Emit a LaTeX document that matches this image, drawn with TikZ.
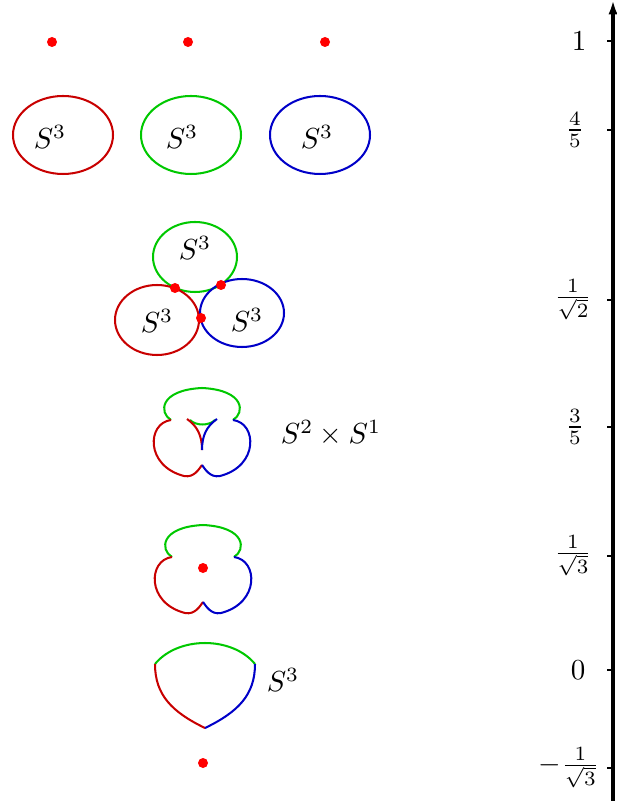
\documentclass[tikz,border=0pt]{standalone}
\usetikzlibrary{arrows.meta}
\definecolor{sred}{RGB}{200,0,0}
\definecolor{sgreen}{RGB}{0,200,0}
\definecolor{sblue}{RGB}{0,0,200}
\tikzset{
  sheet/.style={line width=0.7pt},
  crit/.style={fill=red},
  lvl/.style={inner sep=0pt},
}
\begin{document}
\begin{tikzpicture}[x=0.345pt,y=-0.345pt]
    \useasboundingbox (0,0) rectangle (616,801);

    % nivel 1: tres maximos
    \fill[crit] (52,42) circle (5);
    \fill[crit] (188,42) circle (5);
    \fill[crit] (325,42) circle (5);

    % nivel 4/5: tres esferas separadas
    \draw[sheet,sred] (63,135) ellipse (50 and 39);
    \draw[sheet,sgreen] (191,135) ellipse (50 and 39);
    \draw[sheet,sblue] (320,135) ellipse (50 and 39);
    \node (s3a) at (50,137) {$S^3$};
    \node (s3b) at (182,137) {$S^3$};
    \node (s3c) at (317,137) {$S^3$};

    % nivel 1/sqrt2: las esferas se tocan
    \draw[sheet,sgreen] (195,257) ellipse (42 and 35);
    \draw[sheet,sred] (157,320) ellipse (42 and 35);
    \draw[sheet,sblue] (242,313) ellipse (42 and 34);
    \fill[crit] (175,288) circle (5);
    \fill[crit] (221,285) circle (5);
    \fill[crit] (201,318) circle (5);
    \node (s3d) at (195,248) {$S^3$};
    \node (s3e) at (157,321) {$S^3$};
    \node (s3f) at (247,320) {$S^3$};

    % nivel 3/5: S^2 x S^1
    \begin{scope}[shift={(-1,-137)}]
      \draw[sheet,sgreen] (172,557) .. controls (160,550) and (160,527) .. (203,525)
        .. controls (246,527) and (246,550) .. (234,557);
      \draw[sheet,sred] (172,557) .. controls (148,560) and (146,603) .. (185,613)
        .. controls (195,615) and (200,606) .. (203,602);
      \draw[sheet,sblue] (203,602) .. controls (206,606) and (211,615) .. (221,613)
        .. controls (260,603) and (258,560) .. (234,557);
      \draw[sheet,sgreen] (191,557) .. controls (197,563) and (210,563) .. (216,557);
      \draw[sheet,sred] (188,556) .. controls (198,563) and (203,572) .. (203,587);
      \draw[sheet,sblue] (218,556) .. controls (208,563) and (203,572) .. (203,587);
    \end{scope}
    \node (s2s1) at (331,433) {$S^2\times S^1$};

    % nivel 1/sqrt3
    \draw[sheet,sgreen] (172,557) .. controls (160,550) and (160,527) .. (203,525)
      .. controls (246,527) and (246,550) .. (234,557);
    \draw[sheet,sred] (172,557) .. controls (148,560) and (146,603) .. (185,613)
      .. controls (195,615) and (200,606) .. (203,602);
    \draw[sheet,sblue] (203,602) .. controls (206,606) and (211,615) .. (221,613)
      .. controls (260,603) and (258,560) .. (234,557);
    \fill[crit] (203,568) circle (5);

    % nivel 0: una esfera
    \draw[sheet,sgreen] (155,664) .. controls (178,636) and (232,636) .. (255,664);
    \draw[sheet,sred] (155,664) .. controls (155,695) and (172,712) .. (205,728);
    \draw[sheet,sblue] (255,664) .. controls (255,695) and (238,712) .. (205,728);
    \node (s3g) at (283,680) {$S^3$};

    % nivel -1/sqrt3: minimo
    \fill[crit] (203,763) circle (5);

    % eje de valores
    \coordinate (axbot) at (613,801);
    \coordinate (axtop) at (613,0);
    \draw[line width=1.1pt,-{Latex[length=5pt,width=3.2pt]}] (axbot) -- (axtop);
    \foreach \y/\x/\lab in {41/579/1, 130/575/\frac{4}{5}, 300/573/\frac{1}{\sqrt{2}},
        427/575/\frac{3}{5}, 556/573/\frac{1}{\sqrt{3}}, 670/578/0, 768/569/-\frac{1}{\sqrt{3}}}
    {
      \draw[line width=0.6pt] (607,\y) -- (613,\y);
      \node[lvl] (lv\y) at (\x,\y) {$\lab$};
    }
\end{tikzpicture}
\end{document}
